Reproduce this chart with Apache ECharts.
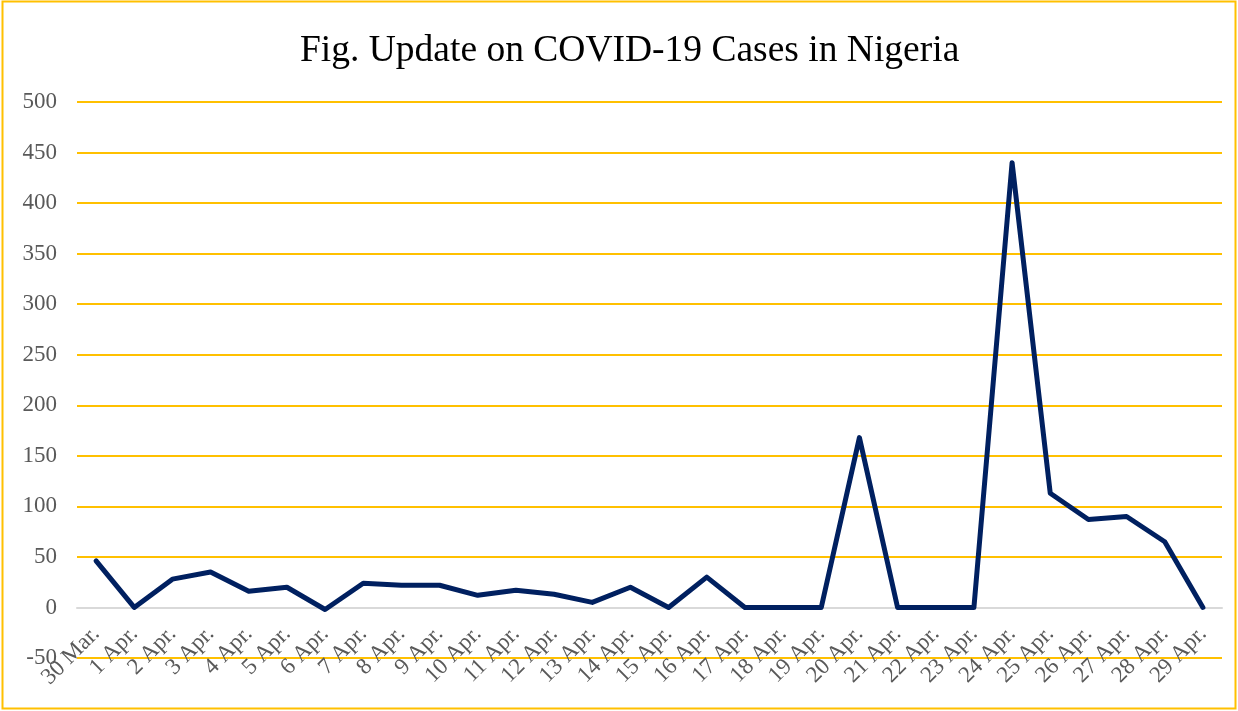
<!DOCTYPE html>
<html><head><meta charset="utf-8">
<script src="https://cdn.jsdelivr.net/npm/echarts@6/dist/echarts.min.js"></script>
<style>html,body{margin:0;padding:0;background:#fff}#c{width:1238px;height:711px}</style>
</head><body><div id="c"></div>
<script>
const categories = ["30 Mar.","1 Apr.","2 Apr.","3 Apr.","4 Apr.","5 Apr.","6 Apr.","7 Apr.","8 Apr.","9 Apr.","10 Apr.","11 Apr.","12 Apr.","13 Apr.","14 Apr.","15 Apr.","16 Apr.","17 Apr.","18 Apr.","19 Apr.","20 Apr.","21 Apr.","22 Apr.","23 Apr.","24 Apr.","25 Apr.","26 Apr.","27 Apr.","28 Apr.","29 Apr."];
const cases = [46,0,28,35,16,20,-2,24,22,22,12,17,13,5,20,0,30,0,0,0,168,0,0,0,440,113,87,90,65,0];
const titleText = "Fig. Update on COVID-19 Cases in Nigeria";
const yMin = -50, yMax = 500, yStep = 50;
const gridTop = 102, gridBottom = 53, H = 711;
const zeroOffset = -((0 - yMin) / (yMax - yMin)) * (H - gridTop - gridBottom);
const chart = echarts.init(document.getElementById('c'), null, {renderer:'canvas'});
const serif = '"Liberation Serif", "Times New Roman", serif';
chart.setOption({
  animation:false,
  backgroundColor:'#fff',
  title:{text:titleText,left:295,top:27,textStyle:{fontFamily:serif,fontSize:37.5,fontWeight:'normal',color:'#000'}},
  graphic:[{type:'rect',shape:{x:2.5,y:1.5,width:1233,height:707},style:{fill:'none',stroke:'#FFC000',lineWidth:2},silent:true}],
  grid:{left:77,right:16,top:gridTop,bottom:gridBottom},
  xAxis:{type:'category',data:categories,boundaryGap:true,offset:zeroOffset,
    axisLine:{onZero:false,lineStyle:{color:'#D9D9D9',width:2}},
    axisTick:{show:false},
    axisLabel:{interval:0,rotate:45,fontFamily:serif,fontSize:23,color:'#595959',margin:23}},
  yAxis:{type:'value',min:yMin,max:yMax,interval:yStep,
    axisLine:{show:false},axisTick:{show:false},
    splitLine:{lineStyle:{color:'#FFC000',width:2}},
    axisLabel:{fontFamily:serif,fontSize:23,color:'#595959',margin:20}},
  series:[{type:'line',data:cases,symbol:'none',lineStyle:{color:'#002060',width:5,join:'round',cap:'round'}}]
});
</script></body></html>
